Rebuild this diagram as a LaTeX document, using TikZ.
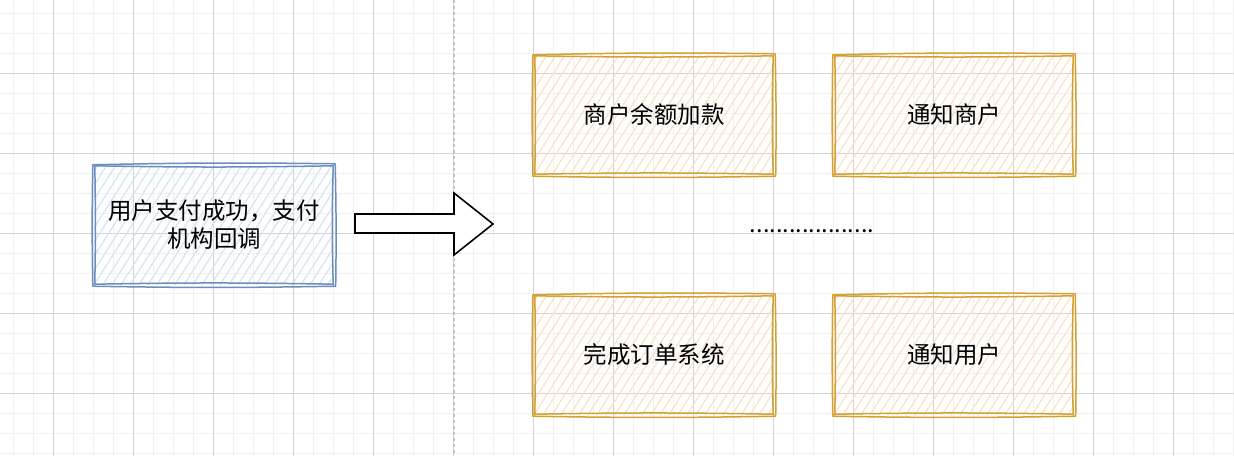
\documentclass[tikz,border=0pt]{standalone}
\usepackage{fontspec}
\setmainfont{Noto Sans CJK SC}
\pgfdeclarelayer{bg}
\pgfdeclarelayer{fillayer}
\pgfsetlayers{bg,fillayer,main}
\begin{document}
\begin{tikzpicture}[x=1bp,y=-1bp,
  minorgrid/.style={draw=gridminor,line width=1bp},
  majorgrid/.style={draw=gridmajor,line width=1bp},
  boxnode/.style={rectangle,minimum width=240bp,minimum height=120bp,inner sep=0pt,align=center,
     font=\fontsize{23.5bp}{28bp}\selectfont},
  sk/.style={line width=1.5bp,line join=round,line cap=round},
  hatchline/.style={line width=1.2bp},
  bigarrow/.style={draw=black,fill=white,line width=1.6bp,line join=miter}
]
\definecolor{gridminor}{HTML}{F1F1F1}
\definecolor{gridmajor}{HTML}{D3D3D3}
\definecolor{bluestroke}{HTML}{6C8EBF}
\definecolor{bluehatch}{HTML}{D4E3FA}
\definecolor{orstroke}{HTML}{D4A032}
\definecolor{orhatch}{HTML}{FDE1C2}
\definecolor{divider}{HTML}{C4C4C4}

\useasboundingbox (0,0) rectangle (1234,456);

% nodes
\node[boxnode] (src) at (214,225) {用户支付成功，支付\\机构回调};
\node[boxnode] (a) at (654,115) {商户余额加款};
\node[boxnode] (b) at (954,115) {通知商户};
\node[boxnode] (c) at (654,355) {完成订单系统};
\node[boxnode] (d) at (954,355) {通知用户};
\node[font=\fontsize{23.5bp}{28bp}\selectfont,anchor=base,inner sep=0pt] (dots) at (812,233) {...................};

\begin{pgfonlayer}{bg}
\fill[white] (0,0) rectangle (1234,456);
\foreach \x in {13.5,33.5,...,1234} \draw[minorgrid] (\x,0) -- (\x,456);
\foreach \y in {14,34,...,456} \draw[minorgrid] (0,\y) -- (1234,\y);
\foreach \x in {53.5,133.5,...,1234} \draw[majorgrid] (\x,0) -- (\x,456);
\foreach \y in {74,154,...,456} \draw[majorgrid] (0,\y) -- (1234,\y);
\draw[divider,line width=1.2bp,dash pattern=on 3bp off 3bp] (454,0) -- (454,456);
\end{pgfonlayer}

% hatch fills
\newcommand\hatchbox[2]{%
  \begin{pgfonlayer}{fillayer}
  \begin{scope}
    \clip (#1.north west) rectangle (#1.south east);
    \foreach \i in {-90,-81,...,250}
      \draw[#2,hatchline] ([xshift=\i bp]#1.south west) -- ++(76,-120);
  \end{scope}
  \end{pgfonlayer}}
\hatchbox{src}{bluehatch}
\hatchbox{a}{orhatch}
\hatchbox{b}{orhatch}
\hatchbox{c}{orhatch}
\hatchbox{d}{orhatch}

% sketchy outlines
\newcommand\skbox[2]{%
  \draw[#2,sk] ([shift={(-1,0)}]#1.north west) to[bend left=1] ([shift={(1,-1)}]#1.north east)
     to[bend left=1] ([shift={(1.5,1)}]#1.south east) to[bend left=1] ([shift={(-1,1)}]#1.south west)
     to[bend left=1] ([shift={(-1,0)}]#1.north west);
  \draw[#2,sk] ([shift={(1,1)}]#1.north west) to[bend right=1] ([shift={(-1,1)}]#1.north east)
     to[bend right=1.5] ([shift={(-1,-1)}]#1.south east) to[bend right=1] ([shift={(1,-1)}]#1.south west)
     to[bend right=1] ([shift={(1,1)}]#1.north west);}
\skbox{src}{bluestroke}
\skbox{a}{orstroke}
\skbox{b}{orstroke}
\skbox{c}{orstroke}
\skbox{d}{orstroke}

% big arrow
\coordinate (t0) at (355,214);
\coordinate (t1) at (454,214);
\coordinate (t2) at (454,193);
\coordinate (tip) at (493,224);
\coordinate (t4) at (454,255);
\coordinate (t5) at (454,233);
\coordinate (t6) at (355,233);
\draw[bigarrow] (t0) -- (t1) -- (t2) -- (tip) -- (t4) -- (t5) -- (t6) -- cycle;
\end{tikzpicture}
\end{document}
